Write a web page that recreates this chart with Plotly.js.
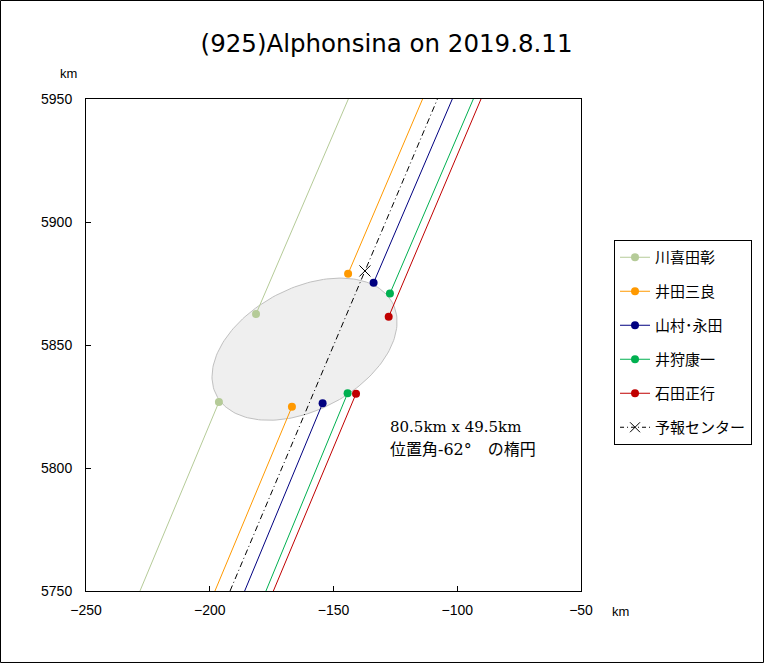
<!DOCTYPE html>
<html><head><meta charset="utf-8">
<script src="https://cdn.plot.ly/plotly-3.0.1.min.js"></script>
<style>html,body{margin:0;padding:0;background:#fff}</style>
</head><body>
<div id="chart" style="width:764px;height:663px"></div>
<script>
// ---- data ----
const observers   = ['川喜田彰', '井田三良', '山村･永田', '井狩康一', '石田正行'];
const colors      = ['#b5cb98', '#ff9900', '#000080', '#00b050', '#c00000'];
const lineEdgeY   = [5750, 5950];                 // y of the chord ends (plot edges)
const lineBottomX = [-228.2, -197.9, -185.9, -177.3, -174.3];
const lineTopX    = [-144.0, -114.0, -102.0, -93.5, -90.4];
const upperDotX   = [-181.3, -144.1, -133.8, -127.2, -127.7];
const upperDotY   = [5862.6, 5879.0, 5875.3, 5870.9, 5861.5];
const lowerDotX   = [-196.3, -166.8, -154.4, -144.3, -140.9];
const lowerDotY   = [5826.8, 5824.9, 5826.3, 5830.4, 5830.2];

const forecastName  = '予報センター';
const forecastLineX = [-191.8, -108.0];
const forecastCenter = [-137.3, 5880.1];

const ellipseCenter = [-161.7, 5848.3];
const ellipseAxes   = [80.5, 49.5];   // km
const ellipsePA     = -62;            // degrees

const xTicks = [-250, -200, -150, -100, -50];
const yTicks = [5750, 5800, 5850, 5900, 5950];

// ---- traces ----
const traces = [];
// ellipse outline from its parameters
(function(){
  const a = ellipseAxes[0]/2, b = ellipseAxes[1]/2;
  const th = (90 + ellipsePA) * Math.PI/180;
  const ex = [], ey = [];
  for (let i = 0; i <= 180; i++) {
    const t = i/180*2*Math.PI;
    ex.push(ellipseCenter[0] + a*Math.cos(t)*Math.cos(th) - b*Math.sin(t)*Math.sin(th));
    ey.push(ellipseCenter[1] + a*Math.cos(t)*Math.sin(th) + b*Math.sin(t)*Math.cos(th));
  }
  traces.push({x: ex, y: ey, mode: 'lines', fill: 'toself', fillcolor: '#efefef',
    line: {color: '#c0c0c0', width: 1}, showlegend: false, hoverinfo: 'skip'});
})();

observers.forEach((name, i) => {
  traces.push({
    x: [lineBottomX[i], lowerDotX[i], null, upperDotX[i], lineTopX[i]],
    y: [lineEdgeY[0], lowerDotY[i], null, upperDotY[i], lineEdgeY[1]],
    mode: 'lines', line: {color: colors[i], width: 1},
    showlegend: false, legendgroup: 'g' + i, hoverinfo: 'skip'
  });
  traces.push({
    x: [lowerDotX[i], upperDotX[i]], y: [lowerDotY[i], upperDotY[i]],
    mode: 'markers', marker: {color: colors[i], size: 8},
    showlegend: false, legendgroup: 'g' + i
  });
});

// forecast line
traces.push({
  x: forecastLineX, y: lineEdgeY, mode: 'lines',
  line: {color: '#000', width: 1, dash: '6px,3px,1px,3px'},
  showlegend: false, legendgroup: 'gf', hoverinfo: 'skip'
});
traces.push({
  x: [forecastCenter[0]], y: [forecastCenter[1]], mode: 'markers',
  marker: {symbol: 'x-thin', size: 11, color: '#000', line: {color: '#000', width: 1}},
  showlegend: false, legendgroup: 'gf'
});

// legend entries
observers.forEach((name, i) => {
  traces.push({x: [null], y: [null], name: name, mode: 'lines+markers',
    line: {color: colors[i], width: 1}, marker: {color: colors[i], size: 8},
    legendgroup: 'g' + i});
});
traces.push({x: [null], y: [null], name: forecastName, mode: 'lines+markers',
  line: {color: '#000', width: 1, dash: '4px,3px,1px,3px'},
  marker: {symbol: 'x-thin', size: 10, color: '#000', line: {color: '#000', width: 1}},
  legendgroup: 'gf'});

const tickFont = {family: 'Liberation Sans, Arial, sans-serif', size: 14, color: '#000'};
const axisCommon = {
  showgrid: false, zeroline: false, showline: true, linecolor: '#000', linewidth: 1,
  mirror: true, ticks: 'inside', ticklen: 5, tickcolor: '#000', tickwidth: 1,
  tickfont: tickFont
};

const layout = {
  width: 764, height: 663, autosize: false,
  margin: {l: 86, r: 183, t: 99, b: 72, pad: 0},
  paper_bgcolor: '#fff', plot_bgcolor: '#fff',
  title: {text: '(925)Alphonsina on 2019.8.11', xref: 'container', x: 0.506, xanchor: 'center',
    yref: 'container', y: 0.934, yanchor: 'middle',
    font: {family: 'DejaVu Sans, sans-serif', size: 24.5, color: '#000'}},
  xaxis: Object.assign({}, axisCommon, {range: [-250, -50], tickvals: xTicks, ticklabelstandoff: 6}),
  yaxis: Object.assign({}, axisCommon, {range: [5750, 5950], tickvals: yTicks, ticklabelstandoff: 10}),
  showlegend: true,
  legend: {x: 1.0667, xanchor: 'left', y: 0.7134, yanchor: 'top',
    bordercolor: '#000', borderwidth: 1, bgcolor: '#fff', tracegroupgap: 11.5,
    font: {family: 'Noto Sans CJK JP, sans-serif', size: 15, color: '#000'}},
  annotations: [
    {xref: 'paper', yref: 'paper', x: -0.036, y: 1.0528, xanchor: 'center', yanchor: 'middle',
      text: 'km', showarrow: false,
      font: {family: 'Liberation Sans, Arial, sans-serif', size: 13, color: '#000'}},
    {xref: 'paper', yref: 'paper', x: 1.0798, y: -0.0407, xanchor: 'center', yanchor: 'middle',
      text: 'km', showarrow: false,
      font: {family: 'Liberation Sans, Arial, sans-serif', size: 13, color: '#000'}},
    {xref: 'x', yref: 'y', x: -128, y: 5816.7, xanchor: 'left', yanchor: 'middle',
      text: '80.5km x 49.5km', showarrow: false,
      font: {family: 'DejaVu Serif, Noto Sans CJK JP, serif', size: 15, color: '#000'}},
    {xref: 'x', yref: 'y', x: -128, y: 5807.7, xanchor: 'left', yanchor: 'middle',
      text: '位置角-62°　の楕円', showarrow: false,
      font: {family: 'DejaVu Serif, Noto Sans CJK JP, serif', size: 16, color: '#000'}}
  ],
  shapes: [
    {type: 'rect', xref: 'paper', yref: 'paper', x0: -0.1727, x1: 1.3687, y0: -0.1453, y1: 1.2002,
      line: {color: '#000', width: 1}, fillcolor: 'rgba(0,0,0,0)', layer: 'above'}
  ]
};

Plotly.newPlot('chart', traces, layout, {displayModeBar: false, staticPlot: true});
</script>
</body></html>
